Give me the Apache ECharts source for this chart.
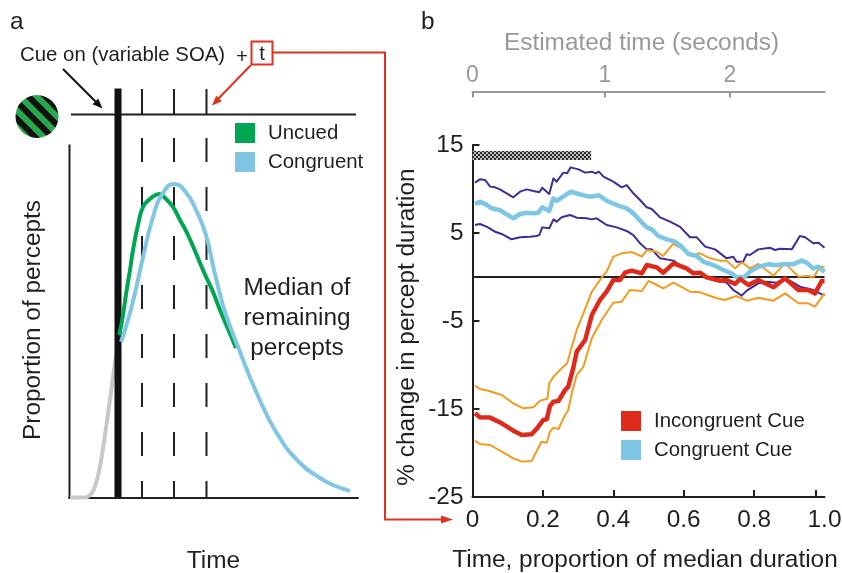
<!DOCTYPE html>
<html><head><meta charset="utf-8">
<style>html,body{margin:0;padding:0;background:#fff}#c{width:842px;height:573px}</style>
<script src="https://cdn.jsdelivr.net/npm/echarts@6/dist/echarts.min.js"></script>
</head><body><div id="c"></div>
<script>
// ---------- panel a (arbitrary time / proportion units) ----------
const gammaGrey = [[0.1,0],[1.6,0],[2.43,0.68],[3.1,3.08],[3.77,7.45],[4.27,11.08],[4.6,13.45],[4.9,15.75]];
const uncuedCurve = [[5.0,16.25],[5.27,17.45],[5.77,20.75],[6.1,22.75],[6.4,24.75],[6.9,27.25],[7.4,29.05],[8.1,29.85],[9.0,30.35],[9.7,29.85],[10.4,29.05],[11.1,27.75],[11.8,26.45],[12.6,24.65],[13.4,22.75],[13.9,21.65],[14.4,20.55],[15.1,18.75],[15.9,16.85],[16.7,14.95]];
const congruentCurve = [[5.2,15.55],[5.9,17.75],[6.6,20.45],[7.27,23.45],[8.4,28.05],[9.4,30.45],[10.5,31.35],[11.6,30.65],[12.8,28.55],[13.7,26.25],[14.5,22.75],[15,20.75],[15.6,18.55],[16.95,14.95],[18.77,10.45],[20.77,6.45],[23.1,3.45],[25.1,1.95],[26.4,1.25],[28.1,0.65]];
const cueTime = 4.9;
const probeTimes = [7.3,10.5,13.75];
const timelineLevel = 38.3, timelineStart = 0.2, timelineEnd = 28.7;
const cueTop = 40.9, probeTop = 40.85, dashTop = 35.95, leftAxisTop = 35.3;

// ---------- panel b ----------
const yTicks = [-25,-15,-5,5,15];
const xLabels = [0,0.2,0.4,0.6,0.8,1];
const xTickMarks = [0.2,0.4,0.6,0.8,0.976];
const topLabels = [0,1.03,2];
const sigBar = [[0,13.8],[0.337,13.8]];
const zeroLine = [[0,0],[1,0]];
const congruentUpper = [[.007,10.72],[.021,11.10],[.036,11.02],[.050,10.27],[.064,10.19],[.078,9.96],[.097,9.51],[.116,9.05],[.135,9.70],[.154,9.96],[.173,9.77],[.190,9.62],[.198,10.15],[.218,9.43],[.230,11.21],[.239,10.83],[.258,11.86],[.269,11.78],[.279,12.46],[.301,12.23],[.320,11.86],[.339,11.97],[.350,11.78],[.359,11.97],[.372,11.40],[.400,10.83],[.424,10.19],[.438,10.45],[.457,9.51],[.476,8.75],[.495,7.92],[.509,7.73],[.533,6.78],[.561,6.29],[.589,5.72],[.618,4.51],[.637,4.51],[.661,3.45],[.689,3.14],[.722,2.12],[.741,2.31],[.750,1.74],[.769,1.74],[.779,2.58],[.788,2.50],[.812,3.14],[.845,3.33],[.859,3.07],[.874,3.22],[.907,3.14],[.930,4.66],[.945,4.51],[.968,3.83],[.983,3.90],[1,3.33]];
const congruentMean = [[.007,8.30],[.021,8.56],[.036,8.30],[.050,7.92],[.064,7.69],[.078,7.61],[.097,7.12],[.116,6.67],[.135,7.16],[.154,7.31],[.173,7.23],[.187,7.31],[.198,7.92],[.218,7.50],[.230,8.94],[.239,8.67],[.258,9.13],[.279,9.70],[.301,9.43],[.320,9.24],[.339,9.13],[.359,9.28],[.381,8.67],[.410,8.18],[.438,7.80],[.457,7.23],[.476,6.40],[.495,5.64],[.509,5.42],[.528,4.66],[.552,4.28],[.575,4.02],[.594,3.45],[.613,2.61],[.637,2.39],[.656,1.74],[.684,1.36],[.713,0.80],[.736,0.42],[.750,-0.04],[.774,0.04],[.788,0.61],[.812,1.17],[.840,1.44],[.864,1.33],[.888,1.48],[.911,1.44],[.935,1.86],[.949,1.63],[.968,0.98],[.983,1.17],[1,0.57]];
const congruentLower = [[.007,5.91],[.021,6.02],[.040,5.72],[.064,5.15],[.083,4.89],[.111,4.28],[.135,4.51],[.163,4.58],[.182,4.66],[.190,4.77],[.198,5.64],[.218,5.53],[.230,6.55],[.239,6.29],[.253,6.78],[.277,7.05],[.296,6.74],[.324,6.67],[.339,6.55],[.353,6.67],[.381,5.91],[.410,5.64],[.438,5.23],[.457,4.77],[.476,3.83],[.495,3.14],[.509,3.14],[.533,2.12],[.571,1.86],[.594,1.17],[.627,0.61],[.665,0.04],[.694,-0.34],[.722,-0.64],[.741,-1.48],[.765,-2.12],[.779,-1.55],[.812,-0.72],[.836,-0.53],[.864,-0.64],[.888,-0.15],[.911,-0.64],[.930,-1.10],[.968,-1.48],[1,-2.12]];
const incongruentUpper = [[.007,-12.35],[.021,-12.73],[.045,-12.92],[.083,-13.41],[.116,-14.36],[.144,-14.92],[.173,-14.81],[.192,-14.05],[.213,-13.83],[.218,-12.08],[.230,-11.33],[.253,-10.38],[.269,-9.81],[.282,-7.92],[.296,-6.02],[.315,-4.13],[.339,-1.67],[.362,-0.34],[.381,0.61],[.400,2.31],[.424,2.69],[.452,2.84],[.481,2.31],[.495,3.07],[.523,2.88],[.542,2.39],[.569,3.75],[.599,3.18],[.623,2.50],[.646,2.69],[.675,2.12],[.703,1.86],[.722,1.86],[.746,0.98],[.765,1.67],[.788,0.98],[.812,1.48],[.855,0.15],[.888,1.55],[.926,0.04],[.954,0.11],[.968,-0.08],[.987,1.17],[1,1.17]];
const incongruentMean = [[.007,-15.49],[.021,-15.95],[.050,-15.98],[.083,-16.63],[.116,-17.46],[.140,-17.95],[.168,-17.88],[.187,-17.01],[.201,-16.25],[.211,-16.17],[.220,-14.66],[.230,-14.17],[.244,-14.09],[.263,-12.84],[.272,-12.46],[.286,-10.38],[.296,-8.48],[.320,-7.16],[.339,-4.32],[.362,-2.61],[.381,-1.67],[.400,-0.34],[.419,-0.34],[.433,0.49],[.452,0.72],[.481,0.42],[.495,1.36],[.523,1.10],[.542,0.49],[.571,1.55],[.608,0.98],[.627,0.42],[.646,0.49],[.665,-0.04],[.703,-0.42],[.722,-0.34],[.746,-0.80],[.760,-0.23],[.784,-0.91],[.812,-0.34],[.855,-1.17],[.888,-0.15],[.926,-1.48],[.954,-1.48],[.973,-1.86],[.992,-0.45],[1,-0.45]];
const incongruentLower = [[.007,-18.60],[.021,-18.98],[.050,-19.09],[.083,-19.85],[.116,-20.61],[.140,-20.98],[.168,-20.91],[.196,-18.71],[.211,-18.83],[.220,-17.58],[.230,-17.12],[.244,-17.27],[.263,-15.68],[.272,-15.11],[.282,-13.22],[.296,-11.14],[.315,-10.19],[.339,-6.97],[.367,-4.89],[.400,-2.92],[.424,-2.80],[.447,-1.48],[.481,-1.59],[.500,-0.45],[.523,-0.91],[.542,-1.29],[.571,-0.64],[.618,-1.67],[.646,-1.74],[.694,-2.42],[.717,-2.61],[.750,-2.16],[.779,-2.69],[.812,-2.35],[.855,-2.69],[.888,-1.86],[.926,-2.99],[.954,-2.99],[.973,-3.37],[1,-1.86]];

const FONT = '"Liberation Sans", Helvetica, Arial, sans-serif';
const INK = '#231f20', GREEN = '#00a651', BLUE = '#7fc6e4', RED = '#dd2a1b', PURPLE = '#3f2d97', ORANGE = '#f39a1f', GREY = '#999999', RULE = '#e0301e';
const BIG = 24.4, SMALL = 20.4;

function checker() {
  const c = document.createElement('canvas'); c.width = 4; c.height = 4;
  const g = c.getContext('2d');
  g.fillStyle = '#bdbdbd'; g.fillRect(0,0,4,4);
  g.fillStyle = '#2a2a2a'; g.fillRect(0,0,2,2); g.fillRect(2,2,2,2);
  return c;
}
function stripes() {
  const L = 17, c = document.createElement('canvas'); c.width = L; c.height = L;
  const g = c.getContext('2d');
  g.fillStyle = '#27a84a'; g.fillRect(0,0,L,L);
  g.strokeStyle = '#111'; g.lineWidth = 6;
  [-L,0,L].forEach(o => { g.beginPath(); g.moveTo(o-2,-2); g.lineTo(o+L+2,L+2); g.stroke(); });
  return c;
}
const line = (name, data, color, width, xi, extra) => Object.assign({
  type:'line', name, data, xAxisIndex:xi, yAxisIndex:xi, symbol:'none', silent:true, clip:false,
  lineStyle:{color, width, cap:'butt', join:'round'}, itemStyle:{color}, emphasis:{disabled:true}
}, extra || {});

const series = [];
probeTimes.forEach((t,i) => {
  series.push(line('probe'+i, [[t,timelineLevel],[t,probeTop]], INK, 2, 0));
  series.push(line('probeDash'+i, [[t,dashTop],[t,0]], INK, 2, 0, {lineStyle:{color:INK,width:2,type:[24,25],cap:'butt'}}));
});
series.push(line('timeline', [[timelineStart,timelineLevel],[timelineEnd,timelineLevel]], INK, 2, 0));
series.push(line('leftAxis', [[0.05,0],[0.05,leftAxisTop]], INK, 2, 0));
series.push(line('Before cue', gammaGrey, '#c8c8c8', 4, 0, {smooth:0.3}));
series.push(line('Cue on', [[cueTime,0],[cueTime,cueTop]], '#111111', 7, 0));
series.push(line('Uncued', uncuedCurve, GREEN, 4, 0, {smooth:0.5}));
series.push(line('Congruent', congruentCurve, BLUE, 4, 0, {smooth:0.5}));

series.push(line('Significant', sigBar, {image:checker(), repeat:'repeat'}, 9, 1));
series.push(line('zero', zeroLine, INK, 2, 1));
series.push(line('Congruent upper', congruentUpper, PURPLE, 2, 1));
series.push(line('Congruent lower', congruentLower, PURPLE, 2, 1));
series.push(line('Incongruent upper', incongruentUpper, ORANGE, 2, 1));
series.push(line('Incongruent lower', incongruentLower, ORANGE, 2, 1));
series.push(line('Congruent Cue', congruentMean, BLUE, 4.5, 1));
series.push(line('Incongruent Cue', incongruentMean, RED, 4.5, 1));

const txt = (text, x, y, size, extra) => ({type:'text', x, y, silent:true, style:Object.assign({text, fill:INK, font:size+'px '+FONT, align:'left', verticalAlign:'middle'}, extra||{})});
const stroke = (points, w) => ({type:'polyline', silent:true, shape:{points}, style:{stroke:w.c, lineWidth:w.w, fill:null}});
const poly = (points, c) => ({type:'polygon', silent:true, shape:{points}, style:{fill:c}});

const graphics = [
  txt('a', 10, 22, BIG), txt('b', 421, 22, BIG),
  txt('Cue on (variable SOA)', 20, 55, SMALL),
  txt('+', 242, 57, SMALL, {align:'center'}),
  txt('t', 262, 54, SMALL, {align:'center'}),
  {type:'rect', silent:true, shape:{x:251.5,y:41.5,width:21,height:23}, style:{fill:null,stroke:RULE,lineWidth:2}},
  stroke([[273,52.5],[385,52.5],[385,519.5],[443,519.5]], {c:RULE,w:2}),
  poly([[453,519.5],[441,515.5],[441,523.5]], RULE),
  stroke([[251,65],[217,100]], {c:RULE,w:2}),
  poly([[212,105.5],[221.8,101.3],[216.2,95.7]], RULE),
  stroke([[63,69],[97,103]], {c:'#111',w:2}),
  poly([[102.5,108.5],[98.2,98.6],[92.6,104.2]], '#111'),
  {type:'circle', silent:true, shape:{cx:37,cy:116.5,r:21.5}, style:{fill:{image:stripes(), repeat:'repeat'}}},
  txt('Median of\nremaining\npercepts', 297, 318, BIG, {align:'center', lineHeight:30}),
  txt('Proportion of percepts', 33, 320, BIG, {align:'center'}),
  txt('% change in percept duration', 407, 327, BIG, {align:'center'})
];
graphics[graphics.length-2].rotation = Math.PI/2;
graphics[graphics.length-1].rotation = Math.PI/2;

const option = {
  backgroundColor:'#fff', animation:false,
  textStyle:{fontFamily:FONT, color:INK},
  grid:[
    {left:69, width:289, top:85, height:412.5, containLabel:false, outerBoundsMode:'none'},
    {left:472.5, width:352, top:145, height:352, containLabel:false, outerBoundsMode:'none'}
  ],
  xAxis:[
    {type:'value', gridIndex:0, min:0, max:28.9, splitLine:{show:false}, axisTick:{show:false}, axisLabel:{show:false},
     axisLine:{show:true, onZero:false, lineStyle:{color:INK,width:2}},
     name:'Time', nameLocation:'middle', nameGap:51.5, nameTextStyle:{fontSize:BIG,color:INK,fontFamily:FONT}},
    {type:'value', gridIndex:1, min:0, max:1, splitLine:{show:false},
     axisLine:{show:true, onZero:false, lineStyle:{color:INK,width:2}},
     axisTick:{show:true, inside:true, length:7, customValues:xTickMarks, lineStyle:{color:INK,width:2}},
     axisLabel:{show:true, customValues:xLabels, margin:11.5, fontSize:BIG, color:INK, fontFamily:FONT, formatter:v => v===0?'0':(+v).toFixed(1)},
     name:'Time, proportion of median duration', nameLocation:'middle', nameGap:51.5,
     nameTextStyle:{fontSize:BIG,color:INK,fontFamily:FONT,padding:[0,7,0,0]}},
    {type:'value', gridIndex:1, position:'top', offset:53.5, min:0, max:2.736, splitLine:{show:false},
     axisLine:{show:true, onZero:false, lineStyle:{color:GREY,width:2}},
     axisTick:{show:true, inside:true, length:6, customValues:topLabels, lineStyle:{color:GREY,width:2}},
     axisLabel:{show:true, customValues:topLabels, margin:4, fontSize:23, color:GREY, fontFamily:FONT, formatter:v => String(Math.round(v))},
     name:'Estimated time (seconds)', nameLocation:'middle', nameGap:36,
     nameTextStyle:{fontSize:BIG,color:GREY,fontFamily:FONT,padding:[0,14,0,0]}}
  ],
  yAxis:[
    {type:'value', gridIndex:0, min:0, max:41.25, show:false},
    {type:'value', gridIndex:1, min:-25, max:15, splitLine:{show:false},
     axisLine:{show:true, onZero:false, lineStyle:{color:INK,width:2}},
     axisTick:{show:true, inside:true, length:7, customValues:yTicks, lineStyle:{color:INK,width:2}},
     axisLabel:{show:true, customValues:yTicks, margin:9, fontSize:BIG, color:INK, fontFamily:FONT}}
  ],
  legend:[
    {left:235, top:123, padding:0, orient:'vertical', itemWidth:20, itemHeight:20, itemGap:9, selectedMode:false,
     data:[{name:'Uncued',icon:'rect'},{name:'Congruent',icon:'rect'}],
     textStyle:{fontSize:SMALL,color:INK,fontFamily:FONT,padding:[0,0,0,8]}},
    {left:621, top:411, padding:0, orient:'vertical', itemWidth:20, itemHeight:20, itemGap:9, selectedMode:false,
     data:[{name:'Incongruent Cue',icon:'rect'},{name:'Congruent Cue',icon:'rect'}],
     textStyle:{fontSize:SMALL,color:INK,fontFamily:FONT,padding:[0,0,0,8]}}
  ],
  series,
  graphic:{elements:graphics}
};
const chart = echarts.init(document.getElementById('c'), null, {renderer:'canvas', width:842, height:573});
chart.setOption(option);
</script></body></html>
